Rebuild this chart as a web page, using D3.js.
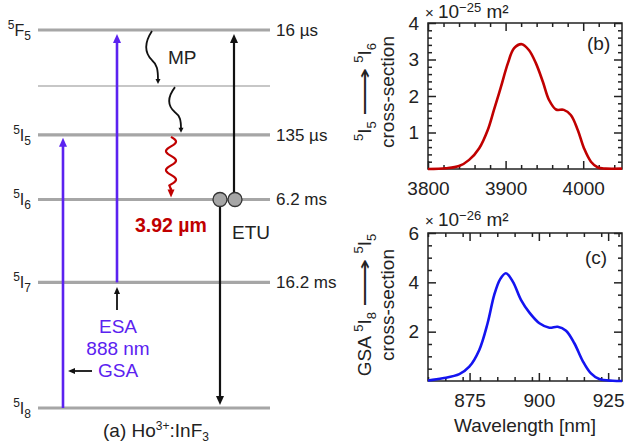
<!DOCTYPE html>
<html>
<head>
<meta charset="utf-8">
<script src="https://cdn.jsdelivr.net/npm/d3@7"></script>
<style>
body { margin: 0; background: #fff; }
svg { font-family: Arial, "Liberation Sans", sans-serif; }
</style>
</head>
<body>
<script>
// Ho3+ energy levels (cm^-1), labels and lifetimes
var levelEnergy = [0, 5150, 8550, 11200, 13200, 15500];
var levelLabel = ["5I8", "5I7", "5I6", "5I5", "", "5F5"];
var levelLife = ["", "16.2 ms", "6.2 ms", "135 µs", "", "16 µs"];

// (b) 5I5 -> 5I6 cross-section, x 10^-25 m^2
var wlB = [3800, 3823, 3840, 3853, 3866, 3877, 3885, 3894, 3903, 3911, 3921, 3930, 3939, 3948, 3956, 3965, 3975, 3984, 3993, 4001, 4010, 4019, 4029, 4050];
var csB = [0.0, 0.02, 0.08, 0.25, 0.57, 1.07, 1.62, 2.25, 2.9, 3.31, 3.42, 3.26, 2.9, 2.39, 1.89, 1.63, 1.62, 1.48, 1.07, 0.57, 0.2, 0.04, 0.01, 0.01];

// (c) GSA 5I8 -> 5I5 cross-section, x 10^-26 m^2
var wlC = [860, 865.3, 871.3, 874.9, 878.5, 881.5, 883.9, 886, 888.1, 890.6, 893.6, 896.6, 900.2, 903.8, 906.8, 909.8, 912.8, 915.8, 918.8, 921.8, 926.7, 930];
var csC = [0.02, 0.11, 0.28, 0.58, 1.26, 2.34, 3.49, 4.12, 4.37, 4.03, 3.28, 2.77, 2.34, 2.16, 2.2, 2.04, 1.53, 0.82, 0.31, 0.08, 0.01, 0.0];

// tick values
var xTicksB = [3800, 3900, 4000];
var yTicksB = [1, 2, 3, 4];
var xTicksC = [875, 900, 925];
var yTicksC = [2, 4, 6];

var purple = "#5b22f0";
var red = "#c00000";
var gray = "#a6a6a6";

var svg = d3.select("body").append("svg")
  .attr("width", 626)
  .attr("height", 444);

// ---------- (a) energy level diagram ----------
var diag = svg.append("g");
var yE = d3.scaleLinear().domain([0, 15500]).range([408, 30]);

diag.selectAll("line.level")
  .data(levelEnergy)
  .enter()
  .append("line")
  .attr("x1", 38).attr("x2", 270)
  .attr("y1", d => yE(d)).attr("y2", d => yE(d))
  .attr("stroke", (d, i) => i == 4 ? "#b4b4b4" : gray)
  .attr("stroke-width", (d, i) => i == 4 ? 1.5 : 3.2);

// left level names
levelLabel.forEach(function(lab, i) {
  if (!lab) return;
  var t = diag.append("text")
    .attr("x", 31)
    .attr("y", yE(levelEnergy[i]) + 6)
    .attr("text-anchor", "end")
    .attr("fill", "#222");
  t.append("tspan").attr("font-size", 12).attr("dy", -7).text(lab[0]);
  t.append("tspan").attr("font-size", 16).attr("dy", 7).text(lab[1]);
  t.append("tspan").attr("font-size", 12).attr("dy", 4).text(lab[2]);
});

// right lifetimes
diag.selectAll("text.life")
  .data(levelLife)
  .enter()
  .append("text")
  .attr("x", 276)
  .attr("y", (d, i) => yE(levelEnergy[i]) + 6)
  .attr("font-size", 17)
  .attr("fill", "#222")
  .text(d => d);

function arrow(g, x1, y1, x2, y2, color, w, hl, hw) {
  var dx = x2 - x1, dy = y2 - y1, L = Math.hypot(dx, dy);
  var ux = dx / L, uy = dy / L;
  var bx = x2 - ux * hl, by = y2 - uy * hl;
  g.append("line")
    .attr("x1", x1).attr("y1", y1)
    .attr("x2", bx + ux).attr("y2", by + uy)
    .attr("stroke", color).attr("stroke-width", w);
  g.append("path")
    .attr("d", `M${x2},${y2}L${bx - uy * hw / 2},${by + ux * hw / 2}L${bx + uy * hw / 2},${by - ux * hw / 2}Z`)
    .attr("fill", color);
}

// pump arrows
arrow(diag, 63, yE(levelEnergy[0]), 63, yE(levelEnergy[3]) + 3, purple, 2.6, 9, 8);
arrow(diag, 117, yE(levelEnergy[1]), 117, yE(levelEnergy[5]) + 4, purple, 2.6, 9, 8);

// ETU arrows
arrow(diag, 234, yE(levelEnergy[2]), 234, yE(levelEnergy[5]) + 4, "#111", 2.2, 9, 8);
arrow(diag, 220, yE(levelEnergy[2]), 220, yE(levelEnergy[0]) - 3, "#111", 2.2, 9, 8);
diag.selectAll("circle.ion")
  .data([220, 235])
  .enter()
  .append("circle")
  .attr("cx", d => d)
  .attr("cy", yE(levelEnergy[2]))
  .attr("r", 7)
  .attr("fill", gray)
  .attr("stroke", "#333")
  .attr("stroke-width", 1.3);

// multiphonon squiggles
function squiggle(x0, y0, y1) {
  var h = y1 - y0;
  diag.append("path")
    .attr("d", `M${x0},${y0}C${x0 - 7},${y0 + 0.2 * h} ${x0 - 8},${y0 + 0.4 * h} ${x0},${y0 + 0.55 * h}` +
      `C${x0 + 5},${y0 + 0.63 * h} ${x0 + 6},${y0 + 0.72 * h} ${x0 + 6},${y1 - 4}`)
    .attr("fill", "none")
    .attr("stroke", "#111")
    .attr("stroke-width", 1.8);
  arrow(diag, x0 + 6, y1 - 5, x0 + 6, y1, "#111", 1.8, 5, 5);
}
squiggle(152, yE(levelEnergy[5]) + 1, yE(levelEnergy[4]) - 2);
squiggle(175, yE(levelEnergy[4]) + 1, yE(levelEnergy[3]) - 2);

// radiative 3.92 um transition (wavy)
var wTop = yE(levelEnergy[3]) + 2, wBot = yE(levelEnergy[2]) - 14;
var wavePts = d3.range(wTop, wBot + 0.1, 0.5).map(y => [171 + 5 * Math.sin(2 * Math.PI * (y - wTop) / 19), y]);
wavePts.push([171, wBot + 4]);
diag.append("path")
  .attr("d", d3.line()(wavePts))
  .attr("fill", "none")
  .attr("stroke", red)
  .attr("stroke-width", 2.2);
arrow(diag, 171, wBot + 3, 171, yE(levelEnergy[2]) - 2, red, 2.2, 8, 7);

// annotations
diag.append("text").attr("x", 168).attr("y", 64).attr("font-size", 19).attr("fill", "#222").text("MP");
diag.append("text").attr("x", 135).attr("y", 232).attr("font-size", 19.5).attr("font-weight", "bold").attr("fill", red).text("3.92 µm");
diag.append("text").attr("x", 232).attr("y", 239).attr("font-size", 19).attr("fill", "#222").text("ETU");
diag.selectAll("text.pump")
  .data(["ESA", "888 nm", "GSA"])
  .enter()
  .append("text")
  .attr("x", 118)
  .attr("y", (d, i) => 333 + i * 22)
  .attr("text-anchor", "middle")
  .attr("font-size", 19)
  .attr("fill", purple)
  .text(d => d);
arrow(diag, 117, 310, 117, 287, "#111", 1.8, 7, 6);
arrow(diag, 92, 371, 68, 371, "#111", 1.8, 7, 6);

var cap = diag.append("text")
  .attr("x", 156).attr("y", 437)
  .attr("text-anchor", "middle")
  .attr("font-size", 19)
  .attr("fill", "#222");
cap.append("tspan").text("(a) Ho");
cap.append("tspan").attr("font-size", 12).attr("dy", -7).text("3+");
cap.append("tspan").attr("dy", 7).text(":InF");
cap.append("tspan").attr("font-size", 12).attr("dy", 4).text("3");

// ---------- (b), (c) cross-section panels ----------
function panel(top, bottom, xDom, yDom, xMaj, xStep, yMaj, yStep, wl, cs, color) {
  var g = svg.append("g");
  var x = d3.scaleLinear().domain(xDom).range([428, 622]);
  var y = d3.scaleLinear().domain(yDom).range([bottom, top]);

  var xMin = d3.range(xDom[0], xDom[1] + 1e-6, xStep).filter(v => xMaj.indexOf(v) < 0);
  var yMin = d3.range(yDom[0] + yStep, yDom[1] - 1e-6, yStep).filter(v => !yMaj.some(m => Math.abs(m - v) < 1e-6));

  function style(sel) {
    sel.select(".domain").remove();
    sel.selectAll("line").attr("stroke", "#222").attr("stroke-width", 1.5);
    sel.attr("font-size", 19).attr("font-family", null);
    sel.selectAll("text").attr("fill", "#222");
  }
  var fmt = d3.format("d");

  g.append("g").attr("transform", `translate(0,${bottom})`)
    .call(d3.axisBottom(x).tickValues(xMaj).tickSize(-8).tickPadding(13).tickFormat(fmt)).call(style);
  g.append("g").attr("transform", `translate(0,${bottom})`)
    .call(d3.axisBottom(x).tickValues(xMin).tickSize(-4).tickFormat("")).call(style);
  g.append("g").attr("transform", `translate(0,${top})`)
    .call(d3.axisTop(x).tickValues(xMaj).tickSize(-8).tickFormat("")).call(style);
  g.append("g").attr("transform", `translate(0,${top})`)
    .call(d3.axisTop(x).tickValues(xMin).tickSize(-4).tickFormat("")).call(style);
  g.append("g").attr("transform", "translate(428,0)")
    .call(d3.axisLeft(y).tickValues(yMaj).tickSize(-8).tickPadding(9).tickFormat(fmt)).call(style);
  g.append("g").attr("transform", "translate(428,0)")
    .call(d3.axisLeft(y).tickValues(yMin).tickSize(-4).tickFormat("")).call(style);
  g.append("g").attr("transform", "translate(622,0)")
    .call(d3.axisRight(y).tickValues(yMaj).tickSize(-8).tickFormat("")).call(style);
  g.append("g").attr("transform", "translate(622,0)")
    .call(d3.axisRight(y).tickValues(yMin).tickSize(-4).tickFormat("")).call(style);

  g.append("rect")
    .attr("x", 428).attr("y", top)
    .attr("width", 194).attr("height", bottom - top)
    .attr("fill", "none")
    .attr("stroke", "#222")
    .attr("stroke-width", 1.5);

  var line = d3.line()
    .x((d, i) => x(wl[i]))
    .y(d => y(d))
    .curve(d3.curveCatmullRom.alpha(0.5));
  g.append("path")
    .datum(cs)
    .attr("d", line)
    .attr("fill", "none")
    .attr("stroke", color)
    .attr("stroke-width", 2.6);
  return g;
}

var gB = panel(23, 169, [3800, 4050], [0, 4], xTicksB, 20, yTicksB, 0.2, wlB, csB, red);
var gC = panel(233, 381, [860, 930], [0, 6], xTicksC, 6.25, yTicksC, 0.5, wlC, csC, "#1414f0");

// multipliers
function mult(yb, exp) {
  var t = svg.append("text").attr("x", 425).attr("y", yb).attr("font-size", 19).attr("fill", "#222");
  t.append("tspan").attr("font-size", 15).text("× ");
  t.append("tspan").text("10");
  t.append("tspan").attr("font-size", 13).attr("dy", -6).text(exp);
  t.append("tspan").attr("dy", 6).text(" m²");
}
mult(18, "−25");
mult(226, "−26");

svg.append("text").attr("x", 587).attr("y", 50).attr("font-size", 19).attr("fill", "#222").text("(b)");
svg.append("text").attr("x", 585).attr("y", 264).attr("font-size", 19).attr("fill", "#222").text("(c)");

// rotated y titles
function yTitle(cy, pre, a, b) {
  var t1 = svg.append("text")
    .attr("transform", `translate(371,${cy}) rotate(-90)`)
    .attr("text-anchor", "middle")
    .attr("font-size", 19)
    .attr("fill", "#222");
  if (pre) t1.append("tspan").text(pre + " ");
  [a, b].forEach(function(lab, k) {
    t1.append("tspan").attr("font-size", 13).attr("dy", -8).text(lab[0]);
    t1.append("tspan").attr("dy", 8).text(lab[1]);
    t1.append("tspan").attr("font-size", 13).attr("dy", 5).text(lab[2]);
    if (k == 0) {
      t1.append("tspan").attr("dy", -5).text(" ");
      t1.append("tspan").attr("textLength", 48).attr("lengthAdjust", "spacingAndGlyphs").text("⟶");
      t1.append("tspan").text(" ");
    }
  });
  svg.append("text")
    .attr("transform", `translate(394,${cy}) rotate(-90)`)
    .attr("text-anchor", "middle")
    .attr("font-size", 19)
    .attr("fill", "#222")
    .text("cross-section");
}
yTitle(92, "", "5I5", "5I6");
yTitle(305, "GSA", "5I8", "5I5");

svg.append("text")
  .attr("x", 525).attr("y", 432)
  .attr("text-anchor", "middle")
  .attr("font-size", 19)
  .attr("fill", "#222")
  .text("Wavelength [nm]");
</script>
</body>
</html>
